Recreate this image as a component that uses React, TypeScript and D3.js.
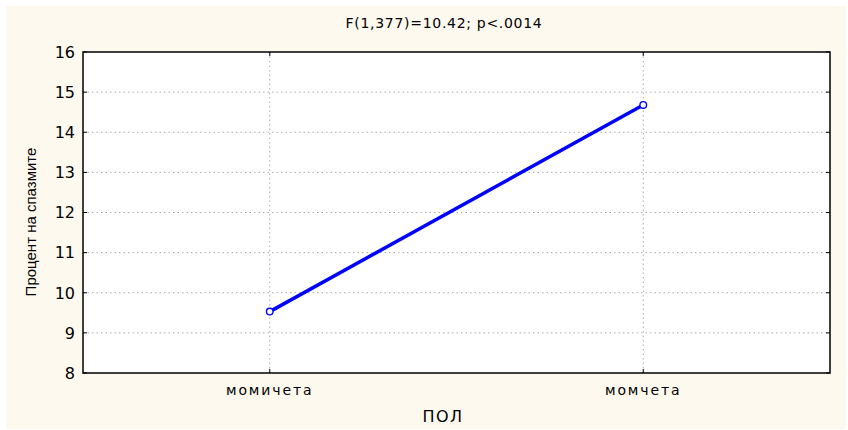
import React from "react";
import * as d3 from "d3";

const categories = ["момичета", "момчета"];
const values = [9.53, 14.68];
const yTicks = [8, 9, 10, 11, 12, 13, 14, 15, 16];
const title = "F(1,377)=10.42; p<.0014";
const xTitle = "ПОЛ";
const yTitle = "Процент на спазмите";

const W = 848;
const H = 430;
const m = { left: 83, right: 830, top: 52, bottom: 373 };
const wide = "'DejaVu Sans', Verdana, sans-serif";
const narrow = "'Liberation Sans', Arial, sans-serif";

export default function App() {
  const x = d3.scalePoint<string>().domain(categories).range([m.left, m.right]).padding(0.5);
  const y = d3.scaleLinear().domain([8, 16]).range([m.bottom, m.top]);
  const pts: [number, number][] = categories.map((c, i) => [x(c)!, y(values[i])]);
  const line = d3.line()(pts) || "";

  return (
    <svg width={W} height={H} style={{ position: "absolute", left: 0, top: 0, display: "block" }}>
      <rect x={0} y={0} width={W} height={H} fill="#fff" />
      <rect x={6} y={6} width={840} height={423} fill="#FEF9EE" />
      <rect x={m.left} y={m.top} width={m.right - m.left} height={m.bottom - m.top} fill="#fff" />
      {/* grid */}
      {yTicks.slice(1, -1).map((t) => (
        <line key={"gy" + t} x1={m.left} x2={m.right} y1={y(t)} y2={y(t)} stroke="#aaa" strokeDasharray="1.5,3" />
      ))}
      {categories.map((c) => (
        <line key={"gx" + c} x1={x(c)} x2={x(c)} y1={m.top} y2={m.bottom} stroke="#aaa" strokeDasharray="1.5,3" />
      ))}
      {/* ticks (inward) */}
      {yTicks.map((t) => (
        <g key={"t" + t}>
          <line x1={m.left} x2={m.left + 4} y1={y(t)} y2={y(t)} stroke="#000" />
          <line x1={m.right - 4} x2={m.right} y1={y(t)} y2={y(t)} stroke="#000" />
          <text x={m.left - 8} y={y(t)} dy="0.36em" textAnchor="end" fontFamily={wide} fontSize={16} fill="#000">
            {t}
          </text>
        </g>
      ))}
      {categories.map((c) => (
        <g key={"xt" + c}>
          <line x1={x(c)} x2={x(c)} y1={m.bottom - 4} y2={m.bottom} stroke="#000" />
          <line x1={x(c)} x2={x(c)} y1={m.top} y2={m.top + 4} stroke="#000" />
          <text
            x={x(c)}
            y={m.bottom + 22}
            textAnchor="middle"
            fontFamily={wide}
            fontSize={14}
            letterSpacing={1.9}
            fill="#000"
          >
            {c}
          </text>
        </g>
      ))}
      {/* frame */}
      <rect x={m.left} y={m.top} width={m.right - m.left} height={m.bottom - m.top} fill="none" stroke="#000" strokeWidth={1.5} />
      {/* series */}
      <path d={line} fill="none" stroke="#0000ff" strokeWidth={3.5} />
      {pts.map(([px, py], i) => (
        <circle key={"p" + i} cx={px} cy={py} r={3.3} fill="#fff" stroke="#0000ff" strokeWidth={1.4} />
      ))}
      {/* titles */}
      <text x={444} y={28} textAnchor="middle" fontFamily={wide} fontSize={14} letterSpacing={0.7} fill="#000">
        {title}
      </text>
      <text x={443} y={422} textAnchor="middle" fontFamily={wide} fontSize={16} letterSpacing={1.5} fill="#000">
        {xTitle}
      </text>
      <text
        transform={`translate(36, 222) rotate(-90)`}
        textAnchor="middle"
        fontFamily={narrow}
        fontSize={15}
        fill="#000"
      >
        {yTitle}
      </text>
    </svg>
  );
}
